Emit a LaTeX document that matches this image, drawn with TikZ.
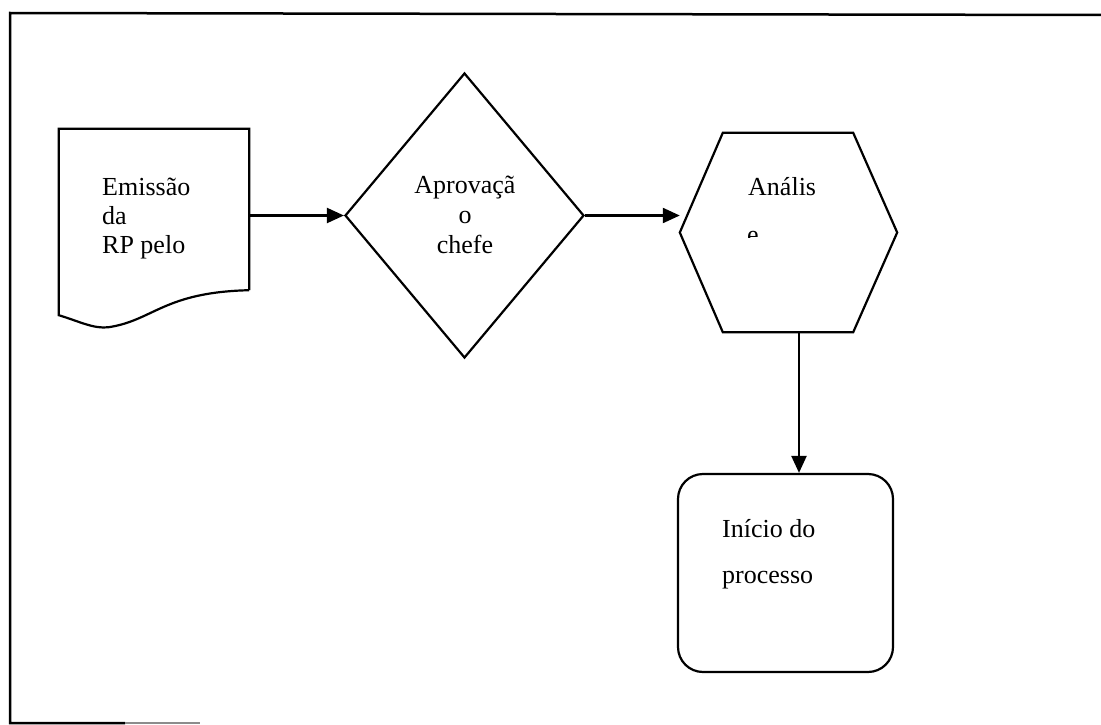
\documentclass[tikz,border=0pt]{standalone}
\usepackage{fontspec}
\setmainfont{Liberation Serif}
\usetikzlibrary{shapes.geometric,arrows.meta}
\begin{document}
\begin{tikzpicture}[x=1pt,y=-1pt,
  shapeline/.style={line width=2.2pt},
  flow/.style={line width=2.2pt,-{Triangle[length=17pt,width=15pt]}},
  lbl/.style={font=\fontsize{26}{29}\selectfont,inner sep=0pt,align=left,anchor=base west},
  frameline/.style={line width=2.5pt}]
\useasboundingbox (0,0) rectangle (1101,725);
% frame
\draw[frameline] (1101,15) -- (10,13) -- (10,723) -- (125,723);
\draw[line width=2pt,black!45] (125,723) -- (200,723);
% document shape
\node[minimum width=190pt,minimum height=161pt,inner sep=0pt] (doc) at (154,209.5) {};
\draw[shapeline] (doc.south east) -- (doc.north east) -- (doc.north west) -- ([yshift=-25pt]doc.south west)
  .. controls ([xshift=20pt,yshift=-31pt]doc.south west) and ([xshift=35pt,yshift=-39pt]doc.south west) .. ([xshift=50pt,yshift=-37pt]doc.south west)
  .. controls ([xshift=95pt,yshift=-30pt]doc.south west) and ([xshift=105pt,yshift=-2pt]doc.south west) .. (doc.south east);
\node[lbl] (doctext) at (102,253) {Emissão\\da\\RP pelo};
% diamond
\node[draw,shapeline,diamond,minimum width=239pt,minimum height=285pt,inner sep=0pt] (dia) at (464.5,215.5) {};
\node[lbl,font=\fontsize{26}{30}\selectfont,align=center,anchor=base] (diatext) at (465,253) {Aprovaçã\\o\\chefe};
% hexagon
\node[minimum width=217pt,minimum height=199pt,inner sep=0pt] (hex) at (788.5,232.5) {};
\draw[shapeline] (hex.west) -- ([xshift=43pt]hex.north west) -- ([xshift=-44pt]hex.north east) -- (hex.east)
  -- ([xshift=-44pt]hex.south east) -- ([xshift=43pt]hex.south west) -- cycle;
\node[lbl] (hextext) at (748,195) {Anális};
\begin{scope}
  \clip (700,140) rectangle (880,237.5);
  \node[lbl] (hextext2) at (747,243) {e};
\end{scope}
% rounded rectangle
\node[draw,shapeline,rounded corners=25pt,minimum width=215pt,minimum height=198pt,inner sep=0pt] (start) at (785.5,573) {};
\node[lbl,font=\fontsize{26}{30}\selectfont] (starttext) at (722,583) {Início do\\[16pt]processo};
% connectors
\draw[flow] (dia.west -| doc.east) -- (dia.west);
\draw[flow] (dia.east) -- (dia.east -| hex.west);
\draw[flow] ([xshift=10.5pt]hex.south) -- ([xshift=10.5pt]hex.south |- start.north);
\end{tikzpicture}
\end{document}
